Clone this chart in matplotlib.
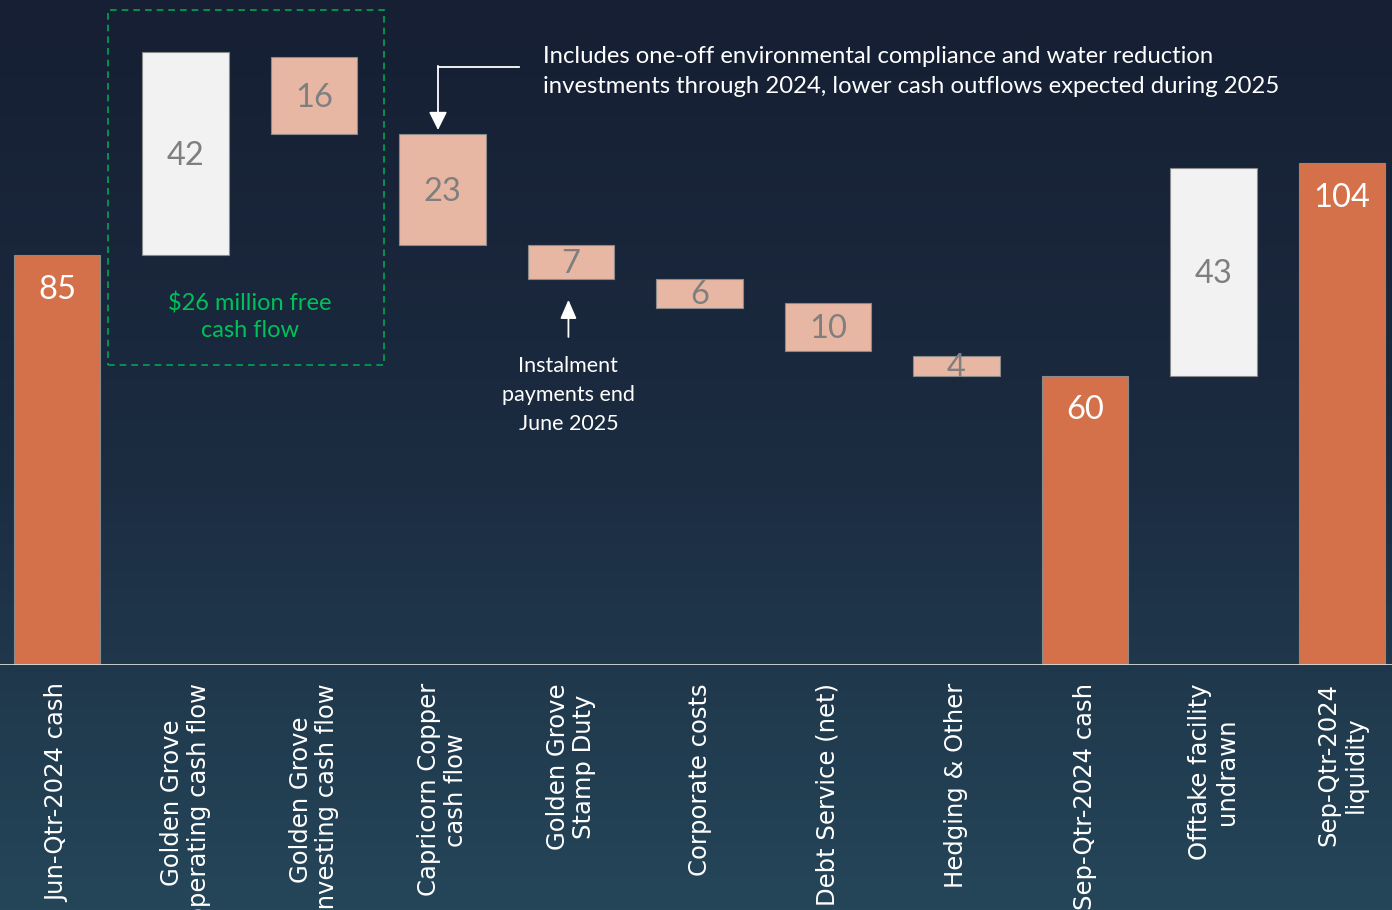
import numpy as np
import matplotlib.pyplot as plt
from matplotlib.colors import LinearSegmentedColormap
from matplotlib.patches import Rectangle

# waterfall data (US$ million)
categories = ["Jun-Qtr-2024 cash", "Golden Grove\noperating cash flow",
              "Golden Grove\ninvesting cash flow", "Capricorn Copper\ncash flow",
              "Golden Grove\nStamp Duty", "Corporate costs", "Debt Service (net)",
              "Hedging & Other", "Sep-Qtr-2024 cash", "Offtake facility\nundrawn",
              "Sep-Qtr-2024\nliquidity"]
bottoms = [0, 85, 110, 87, 80, 74, 65, 60, 0, 60, 0]
heights = [85, 42, 16, 23, 7, 6, 10, 4, 60, 43, 104]
kinds = ["total", "up", "down", "down", "down", "down", "down", "down", "total", "up", "total"]

ORANGE = "#d4714b"
SALMON = "#e8b7a3"
WHITE = "#f2f2f2"
colors = {"total": ORANGE, "up": WHITE, "down": SALMON}

fig = plt.figure(figsize=(13.92, 9.10), dpi=100)

# background gradient
bg = fig.add_axes([0, 0, 1, 1])
cmap = LinearSegmentedColormap.from_list("bg", ["#161f33", "#1b2b40", "#254659"])
bg.imshow(np.linspace(0, 1, 256).reshape(-1, 1), aspect="auto", cmap=cmap,
          extent=[0, 1, 0, 1], origin="upper")
bg.axis("off")

ax = fig.add_axes([0, 245 / 910, 1, 665 / 910])
ax.patch.set_alpha(0)
x = np.arange(len(categories))
ax.set_xlim(-57 / 128.5, (1392 - 57) / 128.5)
ax.set_ylim(0, 665 / 4.824)

for i in x:
    bars = ax.bar(i, heights[i], bottom=bottoms[i], width=0.67, color=colors[kinds[i]],
                  edgecolor="#8a8a8a", linewidth=0.8, zorder=3)
    if kinds[i] == "total":
        ax.text(i, bottoms[i] + heights[i] - 7.2, str(heights[i]), ha="center", va="center",
                color="white", fontsize=23.5, family="Lato", zorder=4)
    else:
        t = ax.text(i, bottoms[i] + heights[i] / 2 - 0.4, str(heights[i]), ha="center", va="center",
                    color="#7f7f7f", fontsize=23.5, family="Lato", zorder=4)
        t.set_clip_path(bars[0])

ax.axhline(0, color="#d9d9d9", lw=2, zorder=5)

for s in ax.spines.values():
    s.set_visible(False)
ax.set_yticks([])
ax.set_xticks(x)
ax.set_xticklabels(categories, rotation=90, ha="center", va="top", multialignment="center",
                   color="white", fontsize=17.5, family="DejaVu Sans", linespacing=1.15)
ax.tick_params(axis="x", length=0, pad=13)

# free cash flow box
ax.add_patch(Rectangle((0.397, 62.2), 2.148, 73.6, fill=False, edgecolor="#00a650",
                       lw=1.2, linestyle=(0, (4, 3)), zorder=2, clip_on=False))
ax.text(1.502, 72.2, "$26 million free\ncash flow", ha="center", va="center",
        color="#00c05a", fontsize=17, family="Lato", linespacing=1.36)

# annotations
ax.text(3.78, 123.0, "Includes one-off environmental compliance and water reduction\n"
        "investments through 2024, lower cash outflows expected during 2025",
        ha="left", va="center", color="white", fontsize=17.2, family="Lato", linespacing=1.5)
ax.plot([3.595, 2.965], [124.0, 124.0], color="white", lw=1.3)
ax.annotate("", xy=(2.965, 110.9), xytext=(2.965, 124.2),
            arrowprops=dict(arrowstyle="-|>,head_length=1.1,head_width=0.55", mutation_scale=10,
                            color="white", lw=1.3, shrinkA=0, shrinkB=0))
ax.annotate("", xy=(3.98, 75.7), xytext=(3.98, 68.0),
            arrowprops=dict(arrowstyle="-|>,head_length=1.15,head_width=0.5", mutation_scale=10,
                            color="white", lw=1.3, shrinkA=0, shrinkB=0))
ax.text(3.98, 56.0, "Instalment\npayments end\nJune 2025", ha="center", va="center",
        color="white", fontsize=15.5, family="Lato", linespacing=1.56)

fig.savefig("out.png", dpi=100)
